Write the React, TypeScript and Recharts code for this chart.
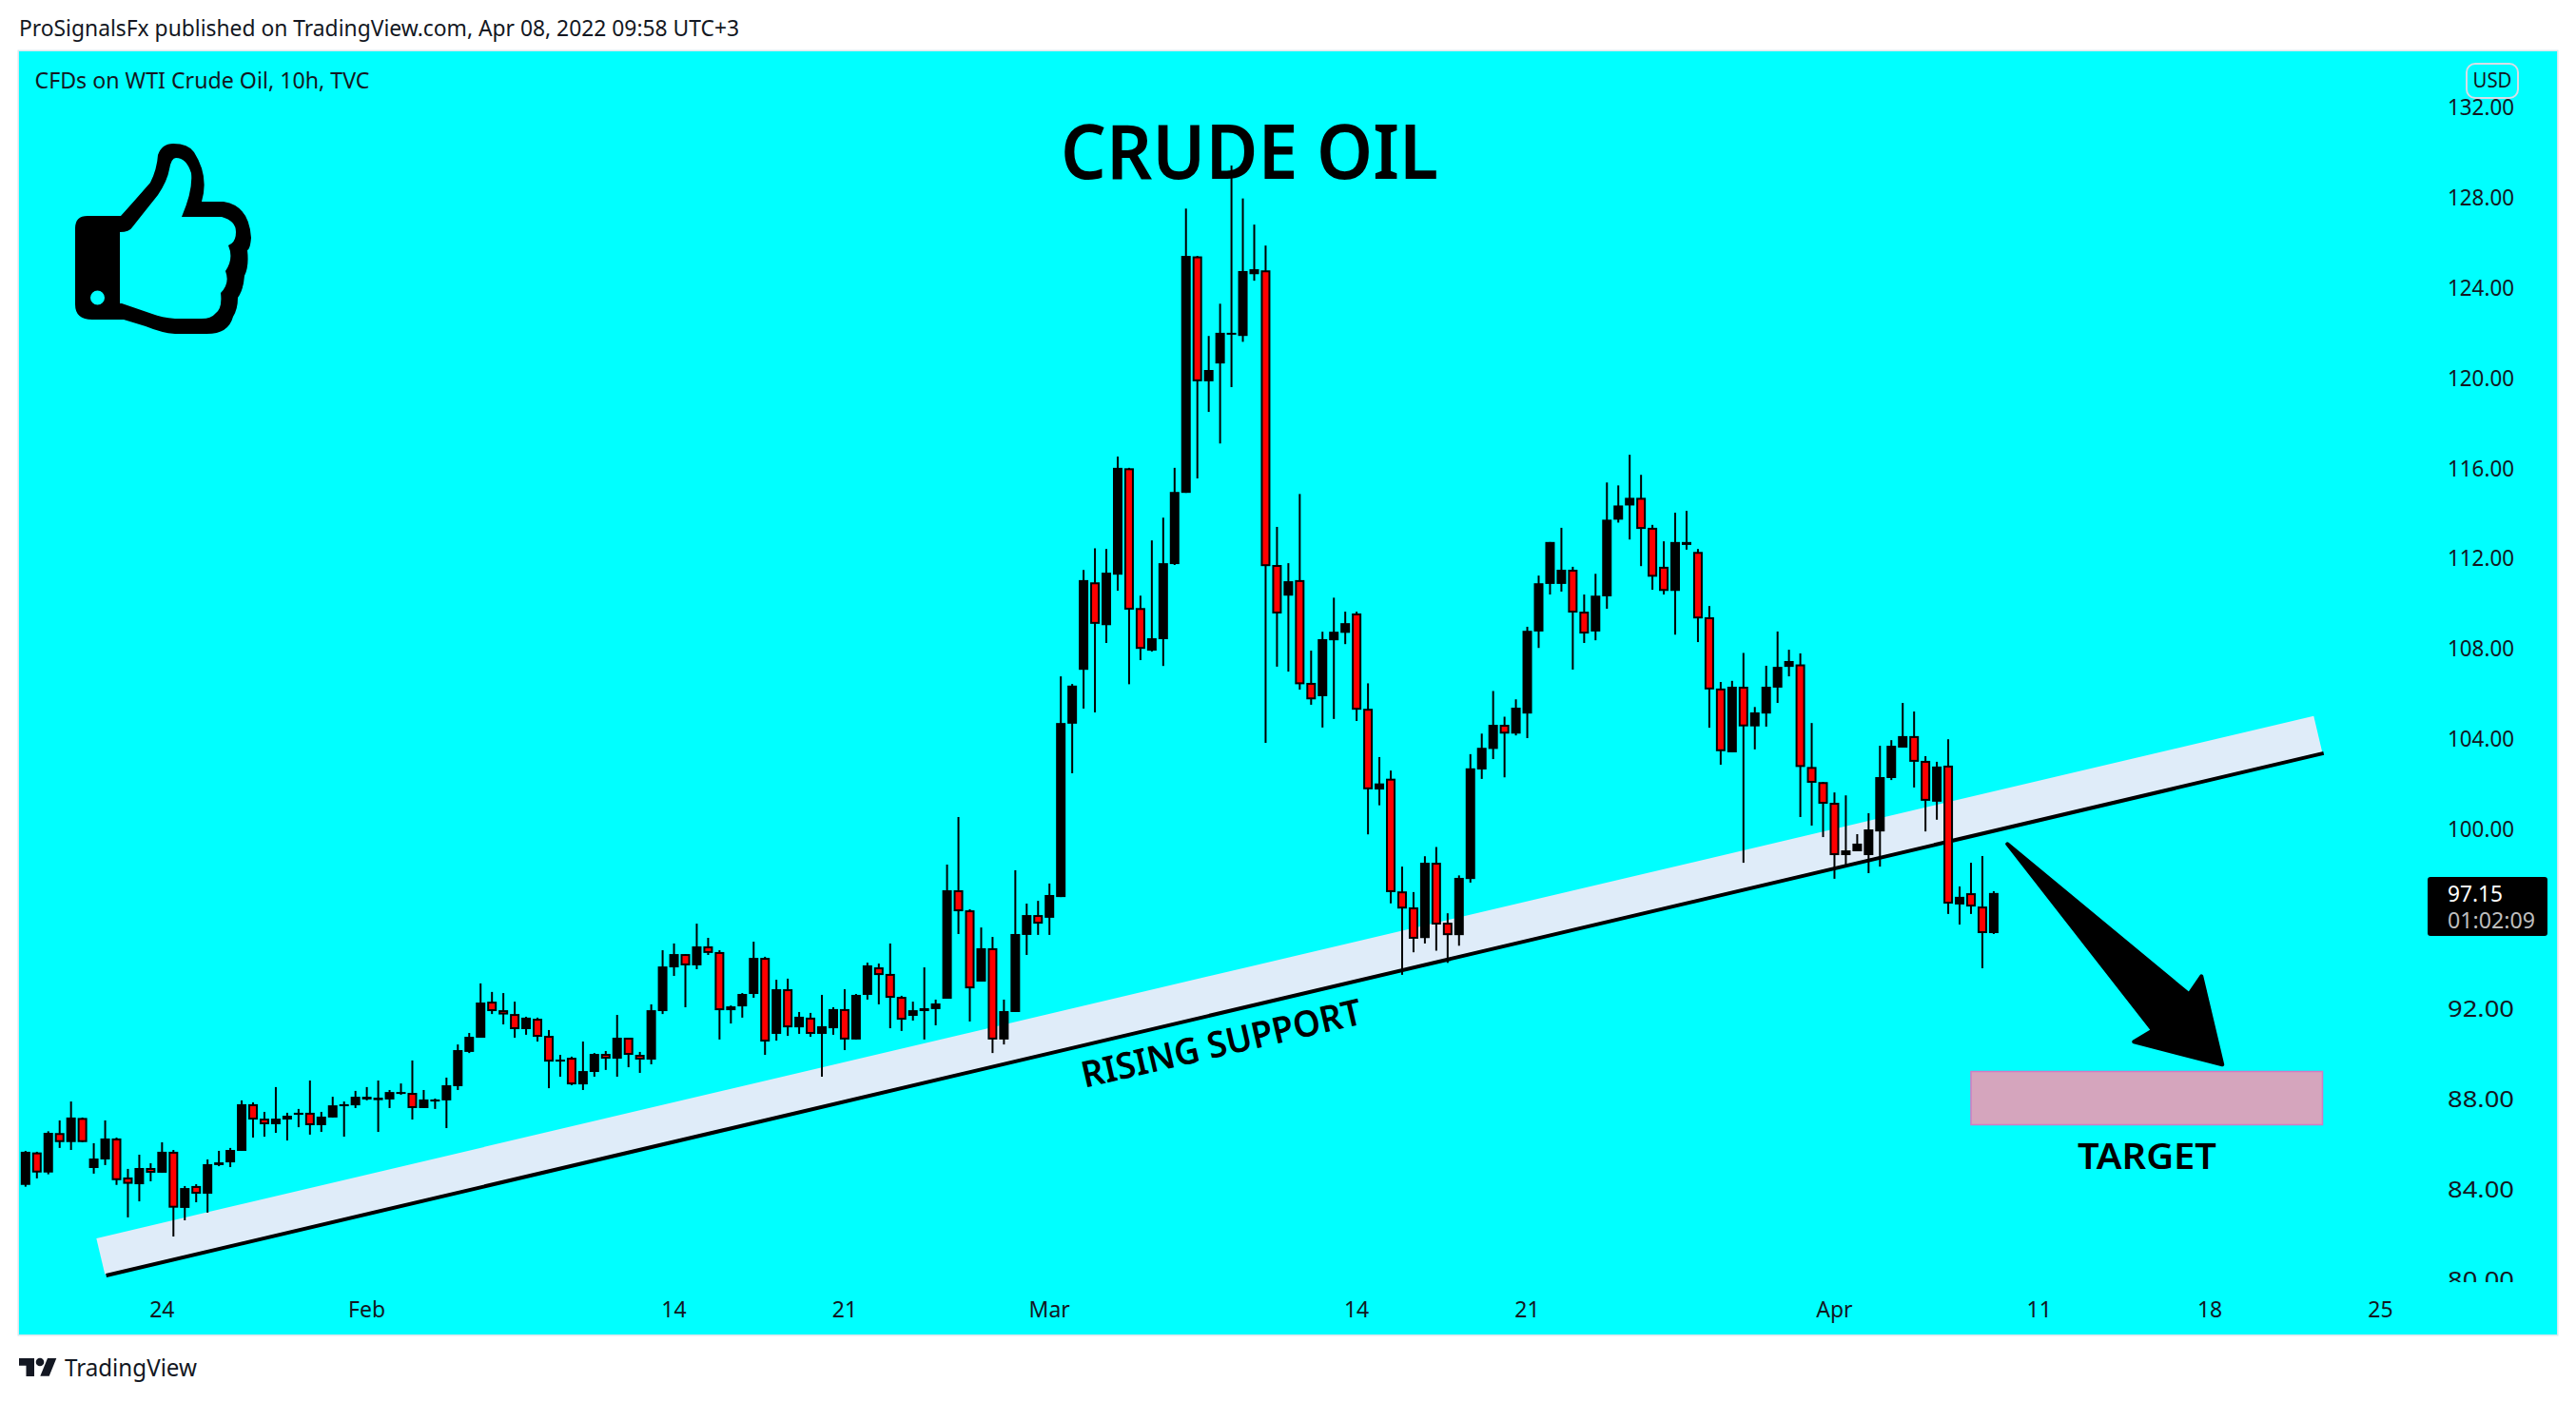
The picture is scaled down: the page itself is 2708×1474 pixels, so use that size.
import React from 'react';
import { ComposedChart, Bar, XAxis, YAxis, ReferenceLine, ReferenceArea, ReferenceDot } from 'recharts';

const opens = [
  84.20,85.64,84.75,86.50,86.10,87.17,84.95,85.33,86.26,84.53,
  84.23,84.95,84.74,85.67,83.18,84.15,83.81,85.08,85.20,85.71,
  87.78,87.14,86.89,87.10,87.31,87.40,86.85,87.19,87.69,87.73,
  87.99,87.96,87.99,88.24,88.28,87.61,87.90,87.95,88.58,90.10,
  90.73,92.33,91.95,91.78,91.11,91.57,90.81,89.67,89.84,88.66,
  89.21,90.01,89.80,90.73,89.97,89.76,91.91,93.85,94.44,93.94,
  94.78,94.53,91.95,92.12,92.67,94.27,90.90,92.88,91.19,91.62,
  90.90,91.15,92.00,90.65,92.63,93.85,93.56,92.54,91.70,91.91,
  92.00,92.46,97.27,96.38,93.22,94.70,90.65,91.87,95.29,96.17,
  96.05,96.97,104.66,107.05,110.93,109.03,111.27,115.99,109.79,107.90,
  108.41,111.74,114.90,125.39,119.85,120.64,121.93,121.86,124.60,124.77,
  111.70,110.34,111.03,106.47,105.88,108.36,108.69,109.55,105.32,101.74,
  102.22,97.22,96.51,95.15,98.49,95.83,95.28,97.77,102.63,103.54,
  104.61,104.22,105.11,108.75,110.86,110.86,111.49,109.63,108.75,110.31,
  113.71,114.34,114.68,113.35,111.62,110.55,112.59,112.28,109.38,106.22,
  103.39,106.30,104.54,105.11,106.26,107.18,107.29,102.74,102.07,101.15,
  98.83,99.00,98.83,99.88,102.25,103.60,104.11,103.01,101.20,102.80,
  96.64,97.14,96.55,95.37,
];
const closes = [
  85.67,84.75,86.51,86.10,87.19,86.10,85.37,86.26,84.41,84.25,
  84.95,84.74,85.67,83.19,84.06,83.81,85.12,85.20,85.75,87.78,
  87.10,86.89,87.14,87.27,87.40,86.85,87.23,87.73,87.78,88.11,
  88.11,88.07,88.32,88.32,87.61,87.99,87.99,88.62,90.18,90.77,
  92.29,91.91,91.76,91.11,91.62,90.77,89.67,89.76,88.66,89.25,
  90.01,89.80,90.73,89.97,89.76,91.95,93.89,94.44,93.94,94.78,
  94.49,91.95,92.12,92.67,94.27,90.56,92.88,91.19,91.66,90.90,
  91.24,92.00,90.65,92.63,93.94,93.51,92.50,91.53,91.95,92.04,
  92.25,97.27,96.34,92.92,94.70,90.65,91.91,95.33,96.17,95.79,
  97.06,104.69,106.35,111.03,109.09,111.36,116.01,109.72,107.98,108.45,
  111.78,114.94,125.41,119.85,120.35,122.00,122.00,124.74,124.82,111.65,
  109.55,110.98,106.41,105.74,108.41,108.74,109.12,105.28,101.75,102.01,
  97.19,96.46,95.12,98.49,95.75,95.28,97.82,102.68,103.59,104.61,
  104.22,105.37,108.78,110.89,112.72,111.49,109.59,108.66,110.34,113.71,
  114.34,114.68,113.30,111.18,110.55,112.72,112.72,109.33,106.18,103.44,
  106.30,104.54,105.16,106.30,107.18,107.44,102.74,102.04,101.11,98.83,
  99.04,99.34,99.97,102.29,103.68,104.11,102.97,101.24,102.76,96.68,
  96.98,96.55,95.37,97.15,
];
const highs = [
  85.71,85.67,86.58,87.06,87.90,87.19,86.05,87.06,86.30,84.91,
  85.54,85.16,86.09,85.75,84.15,84.23,85.33,85.71,85.84,87.95,
  87.86,87.44,88.54,87.40,87.57,88.83,87.44,88.11,87.90,88.37,
  88.54,88.83,88.41,88.70,89.72,88.41,88.03,88.96,90.43,90.94,
  93.14,92.76,92.71,92.33,91.66,91.62,91.07,89.97,89.89,90.56,
  90.05,90.14,91.74,90.73,90.10,92.21,94.61,94.91,94.44,95.79,
  95.16,94.61,92.16,92.71,94.99,94.32,93.30,93.35,91.87,91.83,
  92.63,92.08,92.88,92.67,94.06,94.02,94.91,92.59,92.33,93.85,
  92.42,98.41,100.52,96.43,95.62,95.20,92.42,98.16,96.68,96.80,
  97.57,106.76,106.42,111.48,112.44,112.41,116.51,116.01,110.34,112.79,
  113.80,116.01,127.51,125.41,121.86,123.29,129.42,127.96,126.80,125.87,
  113.39,111.78,114.85,107.90,108.74,110.25,109.63,109.63,106.45,103.18,
  102.58,98.32,97.19,98.78,99.19,96.25,97.93,103.31,104.22,106.11,
  104.97,105.74,108.96,111.23,112.72,113.35,111.62,110.39,111.31,115.36,
  115.23,116.59,115.70,113.48,112.75,114.02,114.10,112.41,109.88,106.51,
  106.56,107.80,105.40,107.23,108.75,107.94,107.78,104.69,102.07,101.61,
  101.48,99.76,100.69,103.68,103.93,105.58,105.20,103.22,102.97,103.97,
  97.44,98.49,98.79,97.23,
];
const lows = [
  84.12,84.49,84.67,85.84,85.75,86.10,84.70,85.08,84.20,82.76,
  83.47,84.36,84.74,81.91,82.63,83.43,82.97,85.03,84.99,85.71,
  86.30,86.34,86.51,86.17,86.76,86.43,86.55,87.19,86.34,87.61,
  87.95,86.55,87.61,88.20,87.10,87.61,87.57,86.72,88.41,90.05,
  90.73,91.78,91.32,90.73,90.86,90.56,88.49,89.00,88.62,88.41,
  89.00,89.30,89.00,89.42,89.17,89.55,91.78,93.47,92.08,93.77,
  94.40,90.65,91.36,91.62,92.50,89.97,90.60,90.81,90.90,90.77,
  89.00,90.86,90.18,90.65,92.42,92.21,91.15,91.03,91.49,90.65,
  91.28,92.46,95.33,91.45,93.22,90.05,90.43,91.87,94.40,95.29,
  95.29,96.97,102.46,105.33,105.16,108.24,110.56,106.41,107.48,107.86,
  107.22,111.70,114.90,115.54,118.49,117.09,119.59,121.60,124.31,103.81,
  107.19,106.97,106.17,105.50,104.49,104.87,108.19,104.78,99.75,101.04,
  96.69,93.52,94.52,94.91,94.59,94.05,94.81,97.61,102.21,103.09,
  102.28,104.14,104.02,108.02,110.39,110.52,107.06,108.24,108.36,109.76,
  113.58,112.83,111.65,110.60,110.39,108.61,112.38,108.28,104.48,102.84,
  103.39,98.49,103.52,104.53,105.58,106.76,100.52,100.14,99.63,97.78,
  98.41,99.00,98.03,98.32,102.16,103.60,101.83,99.88,100.40,96.22,
  95.75,96.22,93.81,95.33,
];

const xTickBars = [12, 30, 57, 72, 90, 117, 132, 159, 177, 192, 207];
const xTickLabels = ['24', 'Feb', '14', '21', 'Mar', '14', '21', 'Apr', '11', '18', '25'];
const priceTicks = [80, 84, 88, 92, 96, 100, 104, 108, 112, 116, 120, 124, 128, 132];
const hiddenPriceTicks = [96];

const xDomain = [-0.569, 211.806];
const yDomain = [79.886, 134.485];

const supportBand = [{ x: 6.605, y: 81.03 }, { x: 201.5, y: 104.2 }];
const supportLine = [{ x: 7.09, y: 80.18 }, { x: 202.0, y: 103.35 }];
const targetZone = { x1: 171, x2: 201.9, y1: 86.865, y2: 89.23 };
const arrowTip = { x: 193.18, y: 89.45 };

const FONT = '"Noto Sans", sans-serif';
const INK = '#131722';
const CHART_MARGIN = { top: 54, right: 20, bottom: 71, left: 20 };

const candles = opens.map((o, i) => ({
  i,
  open: o,
  close: closes[i],
  high: highs[i],
  low: lows[i],
  range: [lows[i], highs[i]],
}));

function Candle(props: any) {
  const { x, y, width, height, payload } = props;
  const { open, close, high, low } = payload;
  const k = height / Math.max(high - low, 0.001);
  const top = y + (high - Math.max(open, close)) * k;
  const bottom = y + (high - Math.min(open, close)) * k;
  const cx = x + width / 2;
  const up = close >= open;
  const h = Math.max(bottom - top, 2);
  return (
    <g>
      <rect x={cx - 1} y={y} width={2} height={Math.max(height, 2)} fill="#000" />
      <rect x={cx - 5} y={top} width={10} height={h} fill="#000" />
      {!up && h > 4 && <rect x={cx - 3} y={top + 2} width={6} height={h - 4} fill="#FF0000" />}
    </g>
  );
}

function PriceTick(props: any) {
  const { y, payload } = props;
  if (hiddenPriceTicks.includes(payload.value)) return <g />;
  return (
    <g>
      <defs>
        <clipPath id={'pt' + payload.value}>
          <rect x={2560} y={54} width={128} height={1294} />
        </clipPath>
      </defs>
      <text x={2573} y={y + 8.5} fontFamily={FONT} fontSize={23} fill={INK} textLength={70} lengthAdjust="spacingAndGlyphs" clipPath={`url(#pt${payload.value})`}>
        {payload.value.toFixed(2)}
      </text>
    </g>
  );
}

function TimeTick(props: any) {
  const { x, payload } = props;
  const label = xTickLabels[xTickBars.indexOf(payload.value)];
  return (
    <text x={x} y={1385} textAnchor="middle" fontFamily={FONT} fontSize={23} fill={INK}>
      {label}
    </text>
  );
}

function ArrowShape(props: any) {
  const { cx, cy } = props;
  const d = 'M-227 -234 L-36 -76 L-23 -95 L-1 -2 L-94 -26 L-74 -38 Z';
  return <path d={d} transform={`translate(${cx} ${cy})`} fill="#000" stroke="#000" strokeWidth={4} strokeLinejoin="round" />;
}

const thumbPath =
  'M92 227 L127 227 Q137 216 158 192 Q165 178 166 163 Q170 151 182 151 Q198 151 204 160 Q220 185 212 212 L235 212 Q262 216 264 250 Q263 262 260 263 Q262 280 257 290 Q256 305 250 313 Q250 325 245 333 Q240 352 215 351 L184 351 Q170 350 153 343 L130 336 L97 336 Q79 336 79 320 L79 240 Q79 227 92 227 Z ' +
  'M126 244 Q136 244 139 239 Q150 225 166 205 Q176 190 178 178 Q180 166 185 166 Q196 166 201 182 Q203 200 191 228 L233 228 Q248 232 248 244 Q248 255 240 258 Q246 272 237 285 Q242 298 232 308 Q234 325 226 330 Q222 335 212 335 L184 335 Q170 334 160 330 L128 319 L126 319 Z ' +
  'M95 313 a7.5 7.5 0 1 0 15 0 a7.5 7.5 0 1 0 -15 0 Z';

const layer: React.CSSProperties = { position: 'absolute', left: 0, top: 0 };

export default function App() {
  return (
    <div style={{ position: 'absolute', left: 0, top: 0, width: 2708, height: 1474, background: '#fff', overflow: 'hidden' }}>
      <div style={{ position: 'absolute', left: 20, top: 54, width: 2668, height: 1349, background: '#00FFFF', boxShadow: '0 0 0 1.5px #D8E8EE' }} />

      {/* The trend channel lies under the candles, so it has a chart layer of its own on the same scales. */}
      <div style={layer}>
        <ComposedChart width={2708} height={1474} data={candles} margin={CHART_MARGIN}>
          <XAxis dataKey="i" type="number" domain={xDomain} allowDataOverflow ticks={xTickBars} interval={0} height={55} axisLine={false} tickLine={false} tick={false} />
          <YAxis orientation="right" type="number" domain={yDomain} allowDataOverflow ticks={priceTicks} interval={0} width={128} axisLine={false} tickLine={false} tick={false} />
          <ReferenceLine segment={supportBand} stroke="#DFECF9" strokeWidth={39} ifOverflow="visible" />
          <ReferenceLine segment={supportLine} stroke="#000" strokeWidth={4} ifOverflow="visible" />
        </ComposedChart>
      </div>

      <div style={layer}>
        <ComposedChart width={2708} height={1474} data={candles} margin={CHART_MARGIN}>
          <XAxis dataKey="i" type="number" domain={xDomain} allowDataOverflow ticks={xTickBars} interval={0} height={55} axisLine={false} tickLine={false} tick={<TimeTick />} />
          <YAxis orientation="right" type="number" domain={yDomain} allowDataOverflow ticks={priceTicks} interval={0} width={128} axisLine={false} tickLine={false} tick={<PriceTick />} />
          <ReferenceArea {...targetZone} fill="#D5A5BD" fillOpacity={1} stroke="#D07CC4" strokeWidth={1.5} ifOverflow="visible" />
          <Bar dataKey="range" barSize={10} shape={<Candle />} isAnimationActive={false} />
          <ReferenceDot x={arrowTip.x} y={arrowTip.y} r={1} ifOverflow="visible" shape={<ArrowShape />} />

          <text x={20} y={38} fontFamily={FONT} fontSize={23.5} fill={INK} textLength={757} lengthAdjust="spacingAndGlyphs">
            ProSignalsFx published on TradingView.com, Apr 08, 2022 09:58 UTC+3
          </text>
          <text x={36.5} y={92.5} fontFamily={FONT} fontSize={23.5} fill={INK} textLength={352} lengthAdjust="spacingAndGlyphs">
            CFDs on WTI Crude Oil, 10h, TVC
          </text>
          <text x={1313.5} y={188} textAnchor="middle" fontFamily={FONT} fontWeight={600} fontSize={80} fill="#000" textLength={397} lengthAdjust="spacingAndGlyphs">
            CRUDE OIL
          </text>
          <text transform="translate(1287 1110) rotate(-13)" textAnchor="middle" fontFamily={FONT} fontWeight={600} fontSize={38} fill="#000" textLength={301} lengthAdjust="spacingAndGlyphs">
            RISING SUPPORT
          </text>
          <text x={2257} y={1229} textAnchor="middle" fontFamily={FONT} fontWeight={600} fontSize={38} fill="#000" textLength={146} lengthAdjust="spacingAndGlyphs">
            TARGET
          </text>
          <path d={thumbPath} fill="#000" fillRule="evenodd" />

          <rect x={2593} y={67} width={54} height={36} rx={9} fill="none" stroke="#D8DCE6" strokeWidth={2} />
          <text x={2620} y={92} textAnchor="middle" fontFamily={FONT} fontSize={22} fill={INK} textLength={41} lengthAdjust="spacingAndGlyphs">USD</text>

          <rect x={2552} y={922} width={126} height={62} rx={3} fill="#000" />
          <text x={2573} y={948} fontFamily={FONT} fontSize={23} fill="#FFFFFF" textLength={58} lengthAdjust="spacingAndGlyphs">97.15</text>
          <text x={2573} y={975.5} fontFamily={FONT} fontSize={23} fill="#BDBDBD" textLength={92} lengthAdjust="spacingAndGlyphs">01:02:09</text>

          <path d="M20 1428 H36 V1447 H27.5 V1435.7 H20 Z" fill={INK} />
          <circle cx={42} cy={1432} r={4.3} fill={INK} />
          <path d="M50 1428 H59.3 L51.7 1446.7 H42.3 Z" fill={INK} />
          <text x={68} y={1447} fontFamily={FONT} fontSize={26} fill={INK} textLength={139} lengthAdjust="spacingAndGlyphs">TradingView</text>
        </ComposedChart>
      </div>
    </div>
  );
}
